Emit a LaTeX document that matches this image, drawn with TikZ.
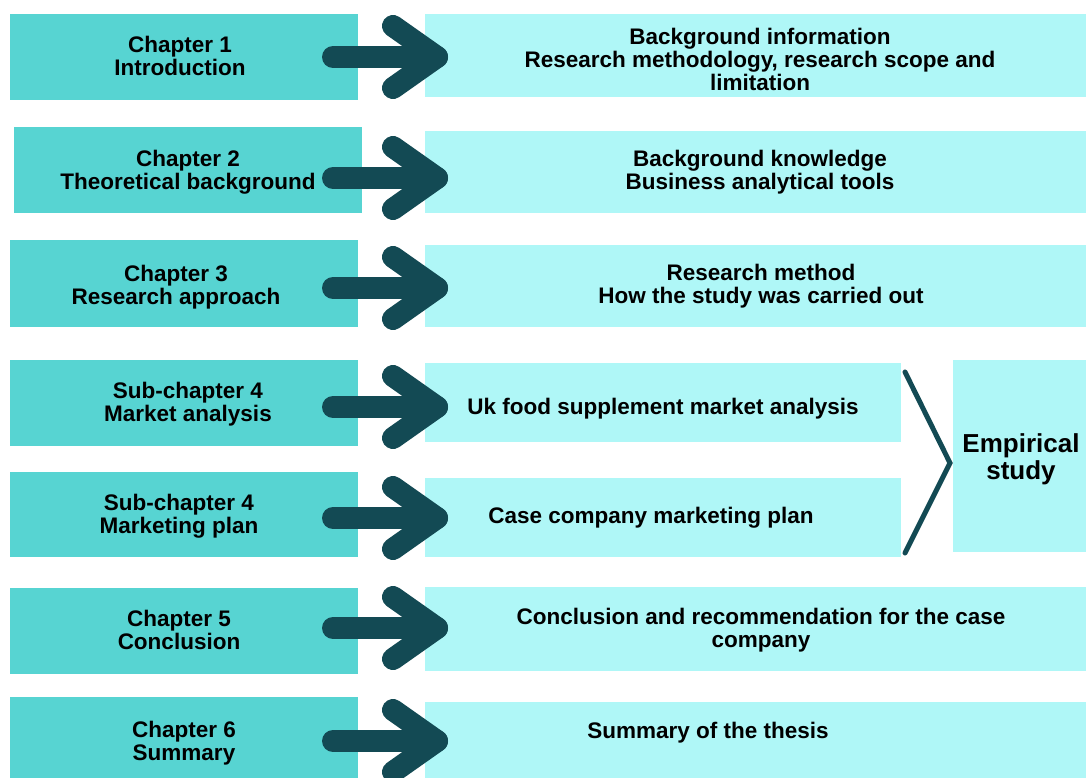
\documentclass[tikz,border=0pt]{standalone}
\usepackage{fontspec}
\setmainfont{Liberation Sans}
\usetikzlibrary{calc}
\definecolor{lteal}{RGB}{87,212,210}
\definecolor{pale}{RGB}{175,247,247}
\definecolor{dteal}{RGB}{19,74,84}
\begin{document}
\begin{tikzpicture}[x=1pt,y=-1pt,
  lbox/.style={fill=lteal,draw=none,inner sep=0pt,outer sep=0pt,anchor=north west},
  rbox/.style={fill=pale,draw=none,inner sep=0pt,outer sep=0pt,anchor=north west},
  lbl/.style={font=\fontsize{22.5}{23}\selectfont\bfseries,align=center,inner sep=0pt,text=black},
  biglbl/.style={font=\fontsize{26}{27}\selectfont\bfseries,align=center,inner sep=0pt,text=black},
  fatarrow/.style={draw=dteal,line width=22pt,line cap=round,line join=round},
  brk/.style={draw=dteal,line width=5pt,line cap=round,line join=miter}]
\useasboundingbox (0,0) rectangle (1086,778);
\fill[white] (0,0) rectangle (1086,778);
% left boxes
\node[lbox,minimum width=348pt,minimum height=86pt] (L1) at (10,14) {};
\node[lbox,minimum width=348pt,minimum height=86pt] (L2) at (14,127) {};
\node[lbox,minimum width=348pt,minimum height=87pt] (L3) at (10,240) {};
\node[lbox,minimum width=348pt,minimum height=86pt] (L4) at (10,360) {};
\node[lbox,minimum width=348pt,minimum height=85pt] (L5) at (10,472) {};
\node[lbox,minimum width=348pt,minimum height=86pt] (L6) at (10,588) {};
\node[lbox,minimum width=348pt,minimum height=81pt] (L7) at (10,697) {};
% right boxes
\node[rbox,minimum width=661pt,minimum height=83pt] (R1) at (425,14) {};
\node[rbox,minimum width=661pt,minimum height=82pt] (R2) at (425,131) {};
\node[rbox,minimum width=661pt,minimum height=82pt] (R3) at (425,245) {};
\node[rbox,minimum width=476pt,minimum height=79pt] (R4) at (425,363) {};
\node[rbox,minimum width=476pt,minimum height=79pt] (R5) at (425,478) {};
\node[rbox,minimum width=133pt,minimum height=192pt] (E) at (953,360) {};
\node[rbox,minimum width=661pt,minimum height=84pt] (R6) at (425,587) {};
\node[rbox,minimum width=661pt,minimum height=76pt] (R7) at (425,702) {};
% arrows
\foreach \i/\y in {1/57,2/178,3/288,4/407,5/518,6/628,7/741}{
  \coordinate (s\i) at (333,\y);
  \coordinate (t\i) at (437,\y);
  \coordinate (u\i) at (393,\y-31);
  \coordinate (d\i) at (393,\y+31);
  \draw[fatarrow] (s\i) -- (t\i);
  \draw[fatarrow] (u\i) -- (t\i) -- (d\i);
}
% bracket
\coordinate (b1) at (905,372);
\coordinate (b2) at (950,463);
\coordinate (b3) at (905,553);
\draw[brk] (b1) -- (b2) -- (b3);
% left texts
\node[lbl] (LT1) at (180,56) {Chapter 1\\Introduction};
\node[lbl] (LT2) at (188,172) {Chapter 2\\Theoretical background};
\node[lbl] (LT3) at (176,287) {Chapter 3\\Research approach};
\node[lbl] (LT4) at (188,404) {Sub-chapter 4\\Market analysis};
\node[lbl] (LT5) at (179,516) {Sub-chapter 4\\Marketing plan};
\node[lbl] (LT6) at (179,630) {Chapter 5\\Conclusion};
\node[lbl] (LT7) at (184,743) {Chapter 6\\Summary};
% right texts
\node[lbl] (RT1) at (760,59) {Background information\\Research methodology, research scope and\\limitation};
\node[lbl] (RT2) at (760,172) {Background knowledge\\Business analytical tools};
\node[lbl] (RT3) at (761,286) {Research method\\How the study was carried out};
\node[lbl] (RT4) at (663,409) {Uk food supplement market analysis};
\node[lbl] (RT5) at (651,518) {Case company marketing plan};
\node[lbl] (RT6) at (761,630) {Conclusion and recommendation for the case\\company};
\node[lbl] (RT7) at (708,733) {Summary of the thesis};
\node[biglbl] (ET) at (1021,459) {Empirical\\study};
\end{tikzpicture}
\end{document}
